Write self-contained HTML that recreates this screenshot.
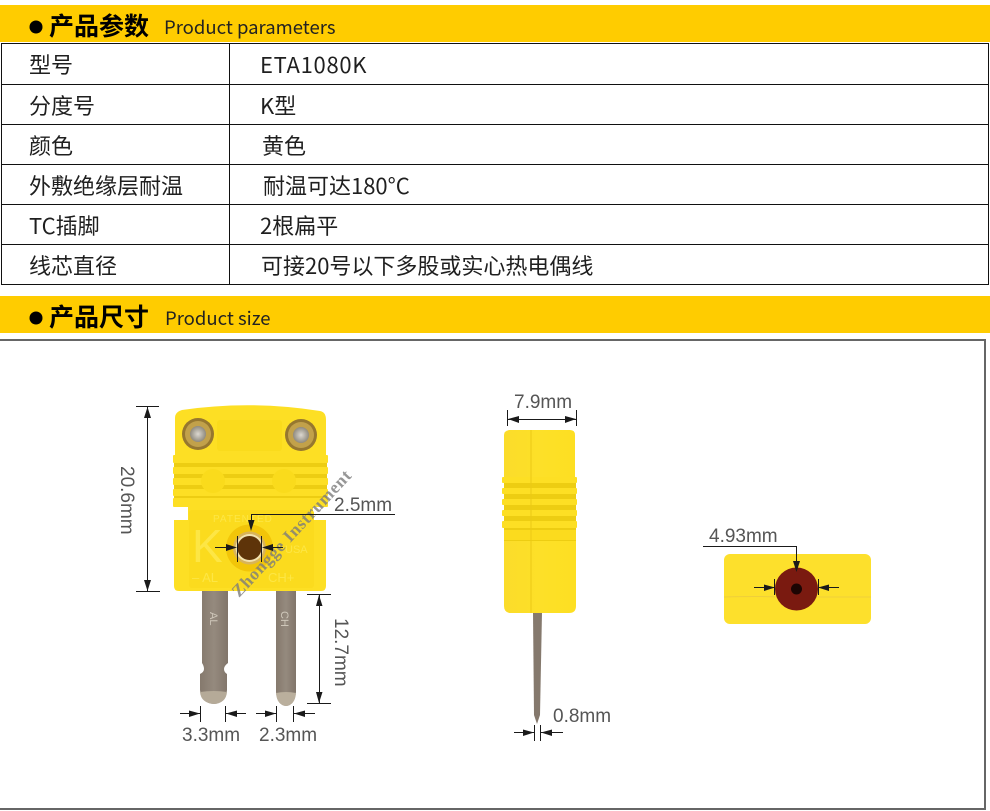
<!DOCTYPE html>
<html lang="zh">
<head>
<meta charset="utf-8">
<title>产品参数</title>
<style>
html,body{margin:0;padding:0;background:#fff}
svg{display:block}
.cn{font-family:"Noto Sans CJK SC","Liberation Sans",sans-serif;font-size:22px;fill:#1f1f1f}
.h{font-family:"Noto Sans CJK SC","Liberation Sans",sans-serif;font-size:25px;font-weight:700;fill:#000}
.en{font-family:"Noto Sans CJK SC","Liberation Sans",sans-serif;font-size:18.5px;fill:#222}
.d{font-family:"Liberation Sans",sans-serif;font-size:19px;fill:#555}
.l{stroke:#1a1a1a;stroke-width:1;fill:none}
.a{fill:#1a1a1a}
</style>
</head>
<body>
<svg width="990" height="811" viewBox="0 0 990 811" xmlns="http://www.w3.org/2000/svg">
<defs>
<linearGradient id="pin" x1="0" x2="1" y1="0" y2="0"><stop offset="0" stop-color="#85796d"/><stop offset=".5" stop-color="#958a7e"/><stop offset="1" stop-color="#81756a"/></linearGradient>
<linearGradient id="side" x1="0" x2="1" y1="0" y2="0"><stop offset="0" stop-color="#fbdc2a"/><stop offset=".5" stop-color="#fde028"/><stop offset="1" stop-color="#fddf22"/></linearGradient>
<radialGradient id="screw"><stop offset="0" stop-color="#dcd8d0"/><stop offset="1" stop-color="#8f8a7e"/></radialGradient>
</defs>
<rect width="990" height="811" fill="#fff"/>

<!-- header 1 -->
<rect x="0" y="5" width="990" height="37" fill="#ffcc00"/>
<circle cx="36" cy="27" r="6.500" fill="#000"/>
<text x="49" y="35" class="h">产品参数</text>
<text x="164" y="34" class="en">Product parameters</text>

<!-- table -->
<g fill="none" stroke="#111" stroke-width="1">
<rect x="1.500" y="43.500" width="987" height="241"/>
<path d="M1 84.500H989M1 124.500H989M1 164.500H989M1 204.500H989M1 244.500H989M229.500 44V284"/>
</g>
<text x="29" y="73" class="cn">型号</text>
<text x="260" y="73" class="cn" style="letter-spacing:.7px">ETA1080K</text>
<text x="29" y="114" class="cn">分度号</text>
<text x="260" y="114" class="cn">K型</text>
<text x="29" y="154" class="cn">颜色</text>
<text x="262" y="154" class="cn">黄色</text>
<text x="29" y="194" class="cn">外敷绝缘层耐温</text>
<text x="263" y="194" class="cn">耐温可达180°C</text>
<text x="29" y="234" class="cn">TC插脚</text>
<text x="260" y="234" class="cn">2根扁平</text>
<text x="29" y="274" class="cn">线芯直径</text>
<text x="261" y="274" class="cn">可接20号以下多股或实心热电偶线</text>

<!-- header 2 -->
<rect x="0" y="296" width="990" height="37" fill="#ffcc00"/>
<circle cx="36" cy="318" r="6.500" fill="#000"/>
<text x="49" y="326" class="h">产品尺寸</text>
<text x="165" y="325" class="en">Product size</text>

<!-- image frame -->
<path d="M0 340H985V809H0" fill="none" stroke="#666" stroke-width="2"/>

<!-- LEFT CONNECTOR pins -->
<path d="M202 591H228V663Q224 666 224 669Q224 672 227 674V690Q226 703 214 704Q201 703 200 690V674Q204 672 204 669Q204 666 202 663Z" fill="url(#pin)"/>
<path d="M200 692Q201 703 214 704Q226 703 227 692Q214 690 200 692Z" fill="#b5aa98"/>
<path d="M276 591H296V692Q295 705 286 706Q277 705 276 692Z" fill="url(#pin)"/>
<path d="M276 693Q277 705 286 706Q295 705 296 693Q286 691 276 693Z" fill="#baaf9d"/>
<text transform="translate(210,612) rotate(90)" style="font:11px 'Liberation Sans',sans-serif" fill="#cfc7ba">AL</text>
<text transform="translate(281,611) rotate(90)" style="font:11px 'Liberation Sans',sans-serif" fill="#cfc7ba">CH</text>

<!-- LEFT CONNECTOR body -->
<path d="M175 418Q175 412 182 410Q250 400 320 411Q326 412 326 420V456H175Z" fill="#fddf24"/>
<rect x="217" y="420" width="65" height="31" rx="3" fill="#fadb1c"/>
<g>
<circle cx="198" cy="434" r="16" fill="#96772f"/><circle cx="198" cy="434" r="13" fill="#c2a14a"/><circle cx="198" cy="434" r="8" fill="url(#screw)"/>
<circle cx="301" cy="435" r="16" fill="#96772f"/><circle cx="301" cy="435" r="13" fill="#c2a14a"/><circle cx="301" cy="435" r="8" fill="url(#screw)"/>
</g>
<rect x="174" y="455" width="153" height="52" fill="#edcd12"/>
<g fill="#fddf24">
<rect x="173" y="455" width="155" height="8" rx="1"/>
<rect x="173" y="467" width="155" height="7" rx="1"/>
<rect x="173" y="478" width="155" height="7" rx="1"/>
<rect x="173" y="489" width="155" height="7" rx="1"/>
<rect x="173" y="498" width="155" height="9" rx="1"/>
</g>
<circle cx="213" cy="481" r="12" fill="#fadb1c"/>
<circle cx="284" cy="481" r="12" fill="#fadb1c"/>
<path d="M174 520H188V507H313V520H326V586Q326 591 321 591H179Q174 591 174 586Z" fill="#fddf24"/>
<rect x="189" y="510" width="125" height="78" rx="3" fill="#fbdb1e"/>
<g fill="#fde645" font-family="Liberation Sans,sans-serif">
<text x="213" y="522" font-size="10" letter-spacing="1">PATENTED</text>
<text x="192" y="562" font-size="46">K</text>
<text x="192" y="582" font-size="13">– AL</text>
<text x="268" y="582" font-size="13">CH+</text>
<text x="285" y="553" font-size="11">USA</text>
</g>
<circle cx="249.500" cy="548" r="23.500" fill="#f2c509"/>
<circle cx="249.500" cy="548" r="16.500" fill="#d8b45a"/>
<circle cx="249.500" cy="548" r="14" fill="#f3e3b0"/>
<circle cx="249.500" cy="548" r="12" fill="#5e3409"/>

<!-- watermark -->
<text transform="translate(239,598) rotate(-47)" style="font:700 17.500px 'Liberation Serif',serif;letter-spacing:.7px" fill="#7c7c7c" fill-opacity=".8">Zhongge Instrument</text>

<!-- left dims -->
<path class="l" d="M136 406.500H159M147.500 407V591M136 591.500H160"/>
<path class="a" d="M147.500 407L144 418H151ZM147.500 591L144 580H151Z"/>
<text transform="translate(121,466) rotate(90)" class="d">20.6mm</text>

<path class="l" d="M395 514.500H251.500V528"/>
<path class="a" d="M251 531L248 520H254.500Z"/>
<text x="334" y="511" class="d">2.5mm</text>
<path class="l" d="M215 547.500H232M237.500 536V562M261.500 536V562M264 547.500H283"/>
<path class="a" d="M237 547.500L226 544V551ZM262 547.500L273 544V551Z"/>

<path class="l" d="M307 594.500H331M319.500 595V703M307 703.500H331"/>
<path class="a" d="M319 595L316 606H322.500ZM319 703L316 692H322.500Z"/>
<text transform="translate(335,618) rotate(90)" class="d">12.7mm</text>

<path class="l" d="M180 713.500H200M200.500 706V722M225.500 706V722M226 713.500H246"/>
<path class="a" d="M200 713.500L189 710.500V717ZM226 713.500L237 710.500V717Z"/>
<text x="182" y="741" class="d">3.3mm</text>
<path class="l" d="M256 713.500H276M276.500 706V722M293.500 706V722M294 713.500H315"/>
<path class="a" d="M276 713.500L265 710.500V717ZM294 713.500L305 710.500V717Z"/>
<text x="259" y="741" class="d">2.3mm</text>

<!-- MIDDLE side view -->
<path d="M533 612H542L540 715L537 724L534 715Z" fill="#85796d"/>
<path d="M504 435Q504 431 509 430H570Q575 430 575 435V478H504Z" fill="url(#side)"/>
<rect x="504" y="478" width="72" height="63" fill="#edcd12"/>
<g fill="#fddf24">
<rect x="502" y="477" width="75" height="6" rx="1"/>
<rect x="502" y="488" width="75" height="6" rx="1"/>
<rect x="502" y="499" width="75" height="6" rx="1"/>
<rect x="502" y="510" width="75" height="6" rx="1"/>
<rect x="502" y="521" width="75" height="7" rx="1"/>
</g>
<rect x="504" y="530" width="72" height="10" fill="#fbdb1e"/>
<path d="M504 541H576V606Q576 613 569 613H511Q504 613 504 606Z" fill="url(#side)"/>
<path d="M531 430V613" stroke="#ecc916" stroke-width="1" fill="none"/>
<path class="l" d="M507.500 410V426M576.500 410V426M508 419.500H576"/>
<path class="a" d="M508 419L519 416V423ZM576 419L565 416V423Z"/>
<text x="514" y="408" class="d">7.9mm</text>
<path class="l" d="M514 732.500H534M534.500 725V741M540.500 725V741M541 732.500H563"/>
<path class="a" d="M534 732.500L523 729.500V736ZM541 732.500L552 729.500V736Z"/>
<text x="553" y="722" class="d">0.8mm</text>

<!-- RIGHT end view -->
<rect x="724" y="554" width="147" height="70" rx="6" fill="#fde02c"/>
<path d="M724 597Q760 596 775 597M818 597H871" stroke="#efcf3a" stroke-width="1" fill="none"/>
<circle cx="796.500" cy="589" r="21.500" fill="#7a1a10"/>
<circle cx="796.500" cy="589" r="5.500" fill="#1c0503"/>
<path class="l" d="M703 546.500H796.500V565"/>
<path class="a" d="M796.500 572L793 561H800Z"/>
<text x="709" y="542" class="d">4.93mm</text>
<path class="l" d="M754 587.500H775M774.500 579V595M818.500 579V595M819 587.500H839"/>
<path class="a" d="M775 587.500L764 584.500V591ZM818 587.500L829 584.500V591Z"/>
</svg>
</body>
</html>
